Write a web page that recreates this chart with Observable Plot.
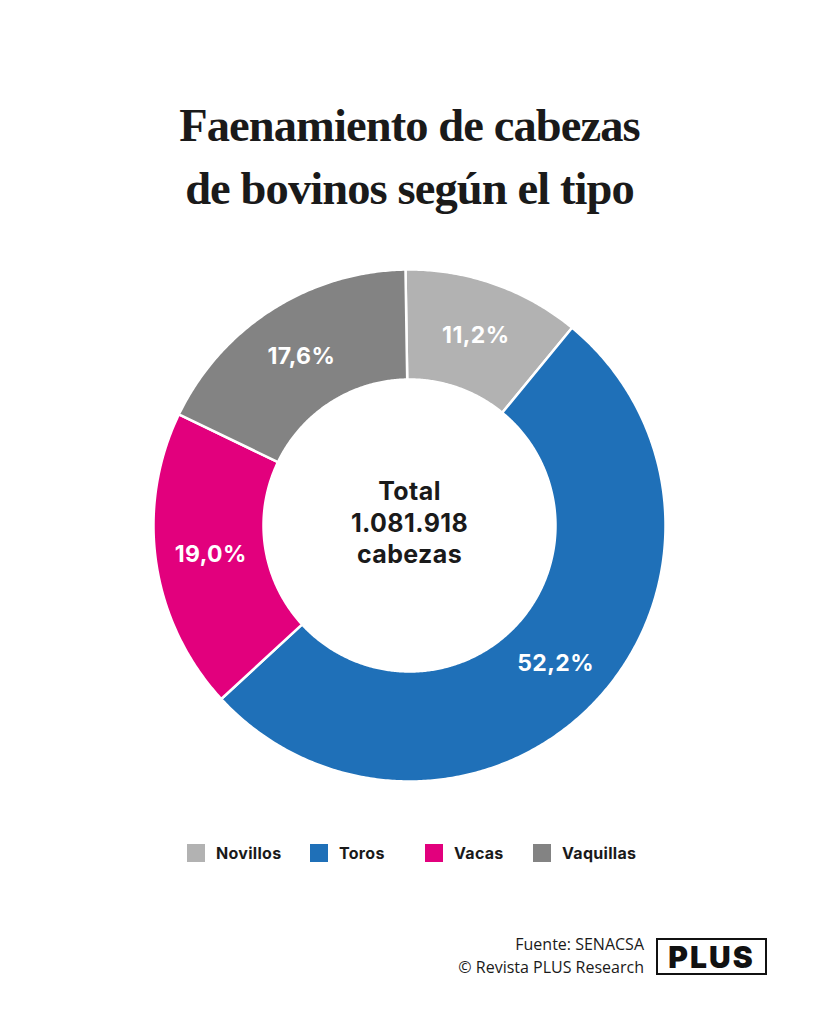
<!DOCTYPE html>
<html>
<head>
<meta charset="utf-8">
<script src="https://cdn.jsdelivr.net/npm/d3@7"></script>
<script src="https://cdn.jsdelivr.net/npm/@observablehq/plot@0.6"></script>
<style>
  html, body { margin: 0; padding: 0; background: #fff; }
  body { width: 819px; height: 1024px; position: relative; overflow: hidden; font-family: Inter, "Noto Sans", sans-serif; color: #1a1a1a; }
  .title { position: absolute; left: 0; width: 819px; text-align: center; font-family: "Liberation Serif", "DejaVu Serif", serif; font-weight: 700; font-size: 46.5px; letter-spacing: -0.9px; color: #1a1a1a; line-height: 1; }
  #chart { position: absolute; left: 0; top: 259px; }
  .leg { position: absolute; top: 844px; height: 18px; display: flex; align-items: center; font-weight: 700; font-size: 16px; letter-spacing: 0.3px; }
  .leg .sw { width: 18px; height: 18px; margin-right: 11px; }
  .src { position: absolute; right: 175px; text-align: right; font-family: "Open Sans", sans-serif; font-size: 16px; color: #1a1a1a; line-height: 1; }
  .logo { position: absolute; left: 656px; top: 938px; width: 107px; height: 33px; border: 2px solid #111; display: flex; align-items: center; justify-content: center; font-family: Inter, sans-serif; font-weight: 900; font-size: 30px; letter-spacing: 2px; color: #111; }
  #chart text { letter-spacing: 0.4px; }
</style>
</head>
<body>
<div class="title" style="top:103px">Faenamiento de cabezas</div>
<div class="title" style="top:166px">de bovinos según el tipo</div>
<div id="chart"></div>
<div id="legend"></div>
<div class="src" style="top:936px">Fuente: SENACSA</div>
<div class="src" style="top:959px">© Revista PLUS Research</div>
<div class="logo">PLUS</div>
<script>
// ---- data ----
const categories = ["Novillos", "Toros", "Vacas", "Vaquillas"];
const shares = [11.2, 52.2, 19.0, 17.6];
const labels = ["11,2%", "52,2%", "19,0%", "17,6%"];
const colors = ["#b2b2b2", "#1f70b8", "#e2007d", "#838383"];
const centerText = ["Total", "1.081.918", "cabezas"];

// ---- layout ----
const startDeg = -0.9;
const innerRatio = 146 / 256;
const labelRatio = 0.785;
const legendLeft = [187, 310, 425, 533];

const total = d3.sum(shares);
const rad = d => d * Math.PI / 180;
const pts = [];
const labPts = [];
let acc = 0;
categories.forEach((c, i) => {
  const a0 = startDeg + acc / total * 360;
  acc += shares[i];
  const a1 = startDeg + acc / total * 360;
  const n = Math.max(8, Math.ceil((a1 - a0) / 0.5));
  for (let k = 0; k <= n; k++) {
    const a = rad(a0 + (a1 - a0) * k / n);
    pts.push({cat: c, x: Math.sin(a), y: Math.cos(a)});
  }
  for (let k = n; k >= 0; k--) {
    const a = rad(a0 + (a1 - a0) * k / n);
    pts.push({cat: c, x: innerRatio * Math.sin(a), y: innerRatio * Math.cos(a)});
  }
  const am = rad((a0 + a1) / 2);
  labPts.push({cat: c, label: labels[i], x: labelRatio * Math.sin(am), y: labelRatio * Math.cos(am)});
});

const chart = Plot.plot({
  width: 819,
  height: 532,
  marginLeft: 153,
  marginRight: 154,
  marginTop: 10,
  marginBottom: 10,
  x: {domain: [-1, 1], axis: null},
  y: {domain: [-1, 1], axis: null},
  color: {domain: categories, range: colors},
  marks: [
    Plot.line(pts, {x: "x", y: "y", z: "cat", fill: "cat", stroke: "white", strokeWidth: 2.5, curve: "linear-closed"}),
    Plot.text(labPts, {x: "x", y: "y", text: "label", fill: "white", fontSize: 23, fontWeight: 700, fontFamily: "Inter"}),
    Plot.text([centerText.join("\n")], {x: [0], y: [0], dy: -4, text: d => d, fill: "#1a1a1a", fontSize: 25, fontWeight: 700, fontFamily: "Inter", lineHeight: 1.25})
  ]
});
document.getElementById("chart").appendChild(chart);

const leg = document.getElementById("legend");
categories.forEach((c, i) => {
  const item = document.createElement("div");
  item.className = "leg";
  item.style.left = legendLeft[i] + "px";
  item.innerHTML = `<span class="sw" style="background:${colors[i]}"></span><span>${c}</span>`;
  leg.appendChild(item);
});
</script>
</body>
</html>
